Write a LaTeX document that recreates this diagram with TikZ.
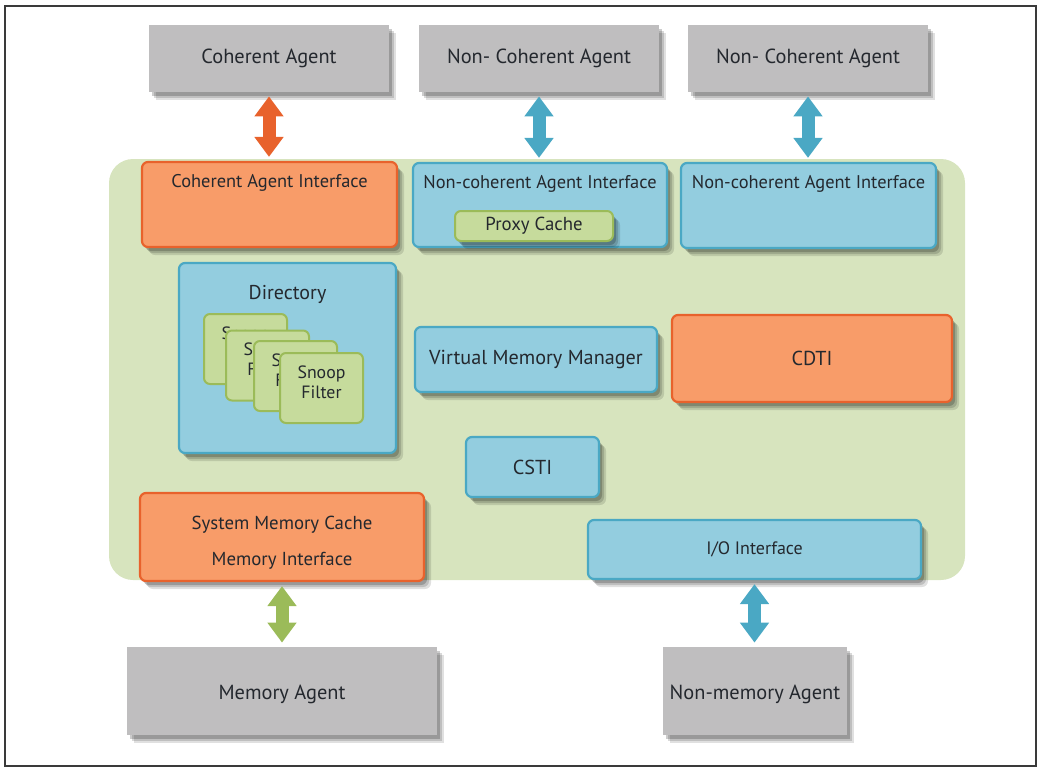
\documentclass[tikz,border=0pt]{standalone}
\usepackage{fontspec}
\setmainfont{PT Sans}
\usetikzlibrary{arrows.meta,shadows}

\definecolor{agentgray}{HTML}{BFBEBF}
\definecolor{bggreen}{HTML}{D7E4BE}
\definecolor{orfill}{HTML}{F89C69}
\definecolor{orline}{HTML}{E8622C}
\definecolor{blfill}{HTML}{93CDDF}
\definecolor{blline}{HTML}{4AA8C4}
\definecolor{grfill}{HTML}{C6DB9C}
\definecolor{grline}{HTML}{9BBB59}
\definecolor{txt}{HTML}{24282E}
\definecolor{framegray}{HTML}{3A3A3A}

\begin{document}
\begin{tikzpicture}[x=0.5pt,y=-0.5pt,
  shade/.style={drop shadow={shadow xshift=3.5pt,shadow yshift=-4pt,opacity=.12,fill=black},
                drop shadow={shadow xshift=2.5pt,shadow yshift=-3pt,opacity=.15,fill=black},
                drop shadow={shadow xshift=1.5pt,shadow yshift=-2pt,opacity=.2,fill=black}},
  agent/.style={fill=agentgray,inner sep=0pt,text=txt,font=\fontsize{10.2}{12}\selectfont,shade},
  orbox/.style={fill=orfill,draw=orline,line width=1.1pt,rounded corners=3pt,inner sep=0pt,text=txt,font=\fontsize{10.1}{12}\selectfont,shade},
  blbox/.style={fill=blfill,draw=blline,line width=1.1pt,rounded corners=3pt,inner sep=0pt,text=txt,font=\fontsize{10.1}{12}\selectfont,shade},
  grbox/.style={fill=grfill,draw=grline,line width=1pt,rounded corners=3pt,inner sep=0pt,minimum width=41.5pt,minimum height=35pt},
  toptext/.style={anchor=north,yshift=-3pt,text=txt,font=\fontsize{9.2}{11}\selectfont},
  midtext/.style={text=txt,align=center},
  link/.style={line width=6.5pt,{Triangle[width=14pt,length=10pt]}-{Triangle[width=14pt,length=10pt]},shorten <=2pt,shorten >=2pt}]
\useasboundingbox (0,0) rectangle (1043,772);
\draw[line width=1pt,draw=framegray] (5,6) rectangle (1036,766);
\fill[bggreen,rounded corners=12pt] (109,159) rectangle (965,580);

\node[agent,minimum width=120pt,minimum height=33.5pt] (ca) at (269,58.5) {Coherent Agent};
\node[agent,minimum width=120pt,minimum height=33.5pt] (nca) at (539,58.5) {Non- Coherent Agent};
\node[agent,minimum width=120pt,minimum height=33.5pt] (ncb) at (808,58.5) {Non- Coherent Agent};
\node[agent,minimum width=155pt,minimum height=44pt,label={[midtext,yshift=-1.5pt,font=\fontsize{10.2}{12}\selectfont]center:Memory Agent}] (ma) at (282,691) {};
\node[agent,minimum width=92pt,minimum height=44pt,label={[midtext,yshift=-1.5pt,font=\fontsize{10.2}{12}\selectfont]center:Non-memory Agent}] (nma) at (755,691) {};

\node[orbox,minimum width=127.5pt,minimum height=42.5pt,label={[toptext]north:Coherent Agent Interface}] (cai) at (269.5,204.5) {};
\node[blbox,minimum width=127pt,minimum height=42pt,label={[toptext]north:Non-coherent Agent Interface}] (ncia) at (540,205) {};
\node[grbox,shade,minimum width=79pt,minimum height=15pt,text=txt,font=\fontsize{9.4}{11}\selectfont] (pc) at (534,226) {Proxy Cache};
\node[blbox,minimum width=127.5pt,minimum height=42.5pt,label={[toptext]north:Non-coherent Agent Interface}] (ncib) at (808.5,205.5) {};

\node[blbox,minimum width=108.5pt,minimum height=95pt,label={[toptext,yshift=-5pt,font=\fontsize{10}{12}\selectfont]north:Directory}] (dir) at (287.5,358) {};
\node[grbox,label={[midtext,yshift=3pt,font=\fontsize{8.9}{9.8}\selectfont]center:Snoop\\Filter}] (sfa) at (245.5,349) {};
\node[grbox,label={[midtext,yshift=3pt,font=\fontsize{8.9}{9.8}\selectfont]center:Snoop\\Filter}] (sfb) at (267.5,365.5) {};
\node[grbox,label={[midtext,yshift=3pt,font=\fontsize{8.9}{9.8}\selectfont]center:Snoop\\Filter}] (sfc) at (295.5,376) {};
\node[grbox,label={[midtext,yshift=3pt,font=\fontsize{8.9}{9.8}\selectfont]center:Snoop\\Filter}] (sfd) at (321.5,388) {};

\node[blbox,minimum width=121pt,minimum height=32.5pt] (vmm) at (536,359.5) {Virtual Memory Manager};
\node[orbox,minimum width=140pt,minimum height=43.5pt] (cdti) at (812,358.5) {CDTI};
\node[blbox,minimum width=66.5pt,minimum height=30pt] (csti) at (532.5,467) {CSTI};
\node[blbox,minimum width=166.5pt,minimum height=29.5pt,font=\fontsize{9}{11}\selectfont] (io) at (754.5,549.5) {I/O Interface};
\node[orbox,minimum width=142pt,minimum height=44pt,label={[midtext,yshift=-3pt,font=\fontsize{9.4}{11}\selectfont]center:System Memory Cache\\[7pt]Memory Interface}] (smc) at (282,537) {};

\draw[link,draw=orline] (ca.south) -- (ca.south |- cai.north);
\draw[link,draw=blline] (nca.south) -- (nca.south |- ncia.north);
\draw[link,draw=blline] (ncb.south) -- (ncb.south |- ncib.north);
\draw[link,draw=grline] (smc.south) -- (smc.south |- ma.north);
\draw[link,draw=blline] (io.south) -- (io.south |- nma.north);
\end{tikzpicture}
\end{document}
